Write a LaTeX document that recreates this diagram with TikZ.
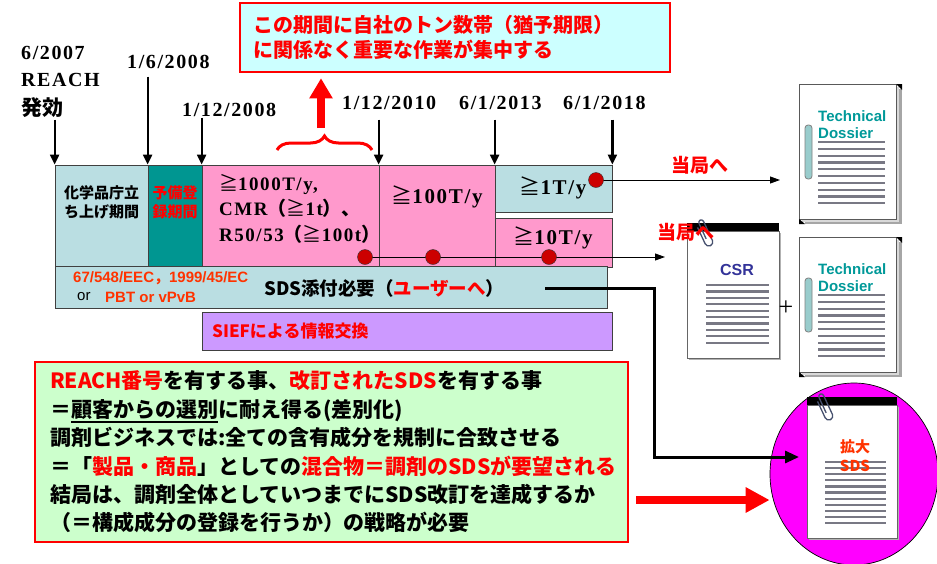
\documentclass[tikz,border=0pt]{standalone}
\usepackage{fontspec}
\setmainfont{Liberation Serif}
\newfontfamily\datefont[LetterSpace=8]{Liberation Serif}
\newfontfamily\sans{Liberation Sans}
\newfontfamily\jp{Noto Sans CJK JP}
\usetikzlibrary{arrows.meta,shapes.geometric,decorations.pathreplacing}

\definecolor{regblue}{RGB}{186,222,226}
\definecolor{preteal}{RGB}{0,150,145}
\definecolor{tonpink}{RGB}{255,153,204}
\definecolor{siefviolet}{RGB}{204,153,255}
\definecolor{notecyan}{RGB}{204,255,255}
\definecolor{notegreen}{RGB}{204,255,204}
\definecolor{ecorange}{RGB}{255,51,0}
\definecolor{dossierteal}{RGB}{0,153,153}
\definecolor{csrblue}{RGB}{51,51,153}
\definecolor{dotred}{RGB}{204,0,0}
\definecolor{ringblue}{RGB}{153,204,204}
\definecolor{docgray}{RGB}{120,120,132}
\definecolor{clipslate}{RGB}{70,80,110}
\definecolor{lensmagenta}{RGB}{255,0,255}

\tikzstyle{period}=[draw=black!75,line width=0.8pt,inner sep=0pt]
\tikzstyle{date}=[inner sep=0pt,font=\datefont\bfseries\fontsize{20}{24}\selectfont]
\tikzstyle{ton}=[inner sep=0pt,align=left,font=\datefont\bfseries\fontsize{21}{25.5}\selectfont]
\tikzstyle{jlabel}=[inner sep=0pt,align=center,font=\jp\bfseries\fontsize{15}{19}\selectfont]
\tikzstyle{tick}=[draw,line width=2.2pt,-{Triangle[length=10pt,width=9pt]}]
\tikzstyle{dot}=[circle,draw=black!80,fill=dotred,minimum size=15pt,inner sep=0pt]
\tikzstyle{feed}=[draw,line width=0.9pt,-{Triangle[length=10pt,width=7pt]}]
\tikzstyle{link}=[draw,line width=3pt,-{Triangle[length=14pt,width=12pt]}]
\tikzstyle{authority}=[inner sep=0pt,text=red,font=\jp\bfseries\fontsize{19}{22}\selectfont]
\tikzstyle{docname}=[inner sep=0pt,align=left,font=\sans\bfseries\fontsize{15}{17}\selectfont]
\tikzstyle{docline}=[draw=docgray,line width=2.2pt]
\tikzstyle{clipwire}=[draw=clipslate,line width=1.3pt]
\tikzstyle{memo}=[inner ysep=0pt,align=left,font=\jp\bfseries\fontsize{21}{28.4}\selectfont]

% underline that stays visible at 21pt
\newcommand{\choiceline}[1]{\leavevmode\vtop{\hbox{#1}\kern1.5pt\hrule height2pt}}

% stacked dossier with a ring binder
\newcommand{\dossier}[2]{%
  \begin{scope}[shift={#2}]
    \fill[black!35] (6,5) rectangle (103,140);
    \fill[black!15] (3,2.5) rectangle (100,137.5);
    \draw[fill=white,draw=black!65,line width=0.7pt] (0,0) rectangle (97,135);
    \fill (97,0) -- (103,0) -- (103,6) -- cycle;
    \fill (0,135) -- (6,140) -- (0,140) -- cycle;
    \draw[fill=ringblue,draw=black!50,line width=0.8pt,rounded corners=3pt] (6,41) rectangle (13,95);
    \node[docname,text=dossierteal,anchor=west] (#1-title) at (19,40.5) {Technical\\Dossier};
    \foreach \k in {0,...,9}
      \draw[docline] (19,58+6.8*\k) -- (86,58+6.8*\k);
  \end{scope}}

% single sheet with black top bar and paper clip
\newcommand{\sheet}[3]{%
  \begin{scope}[shift={#1}]
    \fill[black!30] (2,10) rectangle (#2+2,#3+2);
    \draw[fill=white,draw=black!60,line width=0.7pt] (0,8) rectangle (#2,#3);
    \fill (0,0) rectangle (#2,8);
    \begin{scope}[shift={(8,-1)},rotate=25]
      \draw[clipwire] (0,6) -- (0,24) arc[start angle=180,end angle=0,radius=4]
        -- (8,3) arc[start angle=0,end angle=-180,radius=2.5] -- (3,20);
    \end{scope}
  \end{scope}}

\begin{document}
\begin{tikzpicture}[x=1pt,y=-1pt]
\useasboundingbox (0,0) rectangle (937,563);

% periods
\node[period,fill=regblue,minimum width=93pt,minimum height=101pt] (chem) at (101.5,215.5) {};
\node[period,fill=preteal,minimum width=54pt,minimum height=101pt] (prereg) at (175,215.5) {};
\node[period,fill=tonpink,minimum width=177pt,minimum height=101pt] (ton1000) at (290.5,215.5) {};
\node[period,fill=tonpink,minimum width=116pt,minimum height=101pt] (ton100) at (437,215.5) {};
\node[period,fill=regblue,minimum width=117pt,minimum height=47pt] (ton1) at (553.5,188.5) {};
\node[period,fill=tonpink,minimum width=117pt,minimum height=49pt] (ton10) at (553.5,242.5) {};
\node[period,fill=regblue,minimum width=552pt,minimum height=42pt] (sds) at (331,287) {};
\node[period,fill=siefviolet,minimum width=410pt,minimum height=38pt] (sief) at (407,331) {};

\node[jlabel] (chemtext) at (101.5,202.5) {化学品庁立\\ち上げ期間};
\node[jlabel,text=red] (preregtext) at (175,202.5) {予備登\\録期間};
\node[ton,anchor=west,font=\datefont\bfseries\fontsize{19}{25.5}\selectfont] (tonlist) at (219,208.5)
  {{\jp\mdseries ≧}1000T/y,\\CMR{\jp （\mdseries≧}1t{\jp ）、}\\R50/53{\jp （\mdseries≧}100t{\jp ）}};
\node[ton] (ton100text) at (437,197) {{\jp\mdseries ≧}100T/y};
\node[ton] (ton1text) at (553,188) {{\jp\mdseries ≧}1T/y};
\node[ton] (ton10text) at (553,238) {{\jp\mdseries ≧}10T/y};

\node[anchor=west,inner sep=0pt,text=ecorange,font=\sans\bfseries\fontsize{15}{17}\selectfont] (ecdir) at (73,278) {67/548/EEC{\jp ，}1999/45/EC};
\node[anchor=west,inner sep=0pt,font=\sans\fontsize{15}{17}\selectfont] (ortext) at (77,297) {or};
\node[anchor=west,inner sep=0pt,text=ecorange,font=\sans\bfseries\fontsize{15}{17}\selectfont] (pbt) at (105,297) {PBT or vPvB};
\node[anchor=west,inner sep=0pt,font=\jp\bfseries\fontsize{18.5}{20}\selectfont] (sdsneed) at (264,288) {SDS添付必要（\textcolor{red}{ユーザーへ}）};
\node[anchor=west,inner sep=0pt,text=red,font=\jp\bfseries\fontsize{17}{20}\selectfont] (sieftext) at (212,331) {SIEFによる情報交換};

% dates
\node[date,anchor=west] (start) at (21,53) {6/2007};
\node[date,anchor=west] (reach) at (21,80) {REACH};
\node[date,anchor=west,font=\jp\bfseries\fontsize{21}{24}\selectfont] (force) at (21,108) {発効};
\node[date,anchor=west] (date1) at (127,62) {1/6/2008};
\node[date,anchor=west] (date2) at (182,110) {1/12/2008};
\node[date,anchor=west] (date3) at (342,103) {1/12/2010};
\node[date,anchor=west] (date4) at (459,103) {6/1/2013};
\node[date,anchor=west] (date5) at (563,103) {6/1/2018};
\foreach \anchor/\len in {chem.north west/45,prereg.north west/88,ton1000.north west/47,
    ton100.north west/45,ton1.north west/45,ton1.north east/45}
  \draw[tick] ([yshift=\len pt]\anchor) -- (\anchor);

% busy period
\node[draw=red,line width=2.5pt,fill=notecyan,minimum width=430pt,minimum height=69pt,
  inner xsep=13pt,inner ysep=0pt,text width=404pt,align=left,text=red,
  font=\jp\bfseries\fontsize{20}{25}\selectfont] (note) at (455,37.5)
  {この期間に自社のトン数帯（猶予期限）\\に関係なく重要な作業が集中する};
\draw[red,line width=3pt,decorate,decoration={brace,amplitude=14pt}] (277,150) -- (372,150);
\coordinate (lift) at (321,128);
\draw[red,line width=8pt,-{Triangle[length=20pt,width=22pt]},shorten >=5pt] (lift) -- (lift |- note.south);

% registration deadlines
\coordinate (tosho1) at (780,180);
\coordinate (tosho2) at (665,257);
\coordinate (fa) at (365,257);
\coordinate (fb) at (433,257);
\coordinate (fc) at (549,257);
\coordinate (fd) at (596,180);
\draw[feed] (fa) -- (tosho2);
\draw[feed] (fd) -- (tosho1);
\foreach \name in {fa,fb,fc,fd}
  \node[dot] (\name-dot) at (\name) {};

% documents
\dossier{dossier1}{(799,84)}
\dossier{dossier2}{(799,237)}
\sheet{(687,223)}{92}{135}
\node[inner sep=0pt,text=csrblue,font=\sans\bfseries\fontsize{16}{18}\selectfont] (csrtext) at (737,270) {CSR};
\foreach \k in {0,...,9}
  \draw[docline] (706,285+6.4*\k) -- (769,285+6.4*\k);
\node[inner sep=0pt,font=\fontsize{26}{26}\selectfont] (plus) at (786,308) {+};
\node[authority] (auth1) at (700,165) {当局へ};
\node[authority] (auth2) at (686,232) {当局へ};

% enlarged SDS
\node[ellipse,draw,fill=lensmagenta,line width=0.7pt,minimum width=168pt,minimum height=182pt,inner sep=0pt] (zoom) at (854,474) {};
\sheet{(807,397)}{90}{141}
\foreach \k in {0,...,10}
  \draw[docline] (825,462+6.1*\k) -- (886,462+6.1*\k);
\node[inner sep=0pt,align=center,text=ecorange,font=\jp\bfseries\fontsize{15}{19}\selectfont] (bigsds) at (855,456) {拡大\\SDS};

\coordinate (sdsout) at (545,288);
\coordinate (bend) at (654,457);
\coordinate (bigsdsin) at (799,457);
\draw[link] (sdsout) -| (bend) -- (bigsdsin);

% what has to be done
\node[memo,draw=red,line width=2.5pt,fill=notegreen,minimum width=593pt,minimum height=180pt,
  inner xsep=15pt,text width=563pt] (merit) at (331.5,452)
  {\textcolor{red}{REACH番号}を有する事、\textcolor{red}{改訂されたSDS}を有する事\\
   ＝\choiceline{顧客からの選別}に耐え得る(差別化)\\
   調剤ビジネスでは:全ての含有成分を規制に合致させる\\
   ＝「\textcolor{red}{製品・商品}」としての\textcolor{red}{混合物＝調剤のSDSが要望される}\\
   結局は、調剤全体としていつまでにSDS改訂を達成するか\\
   （＝構成成分の登録を行うか）の戦略が必要};
\coordinate (push) at (636,500);
\draw[red,line width=8pt,-{Triangle[length=24pt,width=24pt]}] (push) -- (push -| zoom.west);
\end{tikzpicture}
\end{document}
